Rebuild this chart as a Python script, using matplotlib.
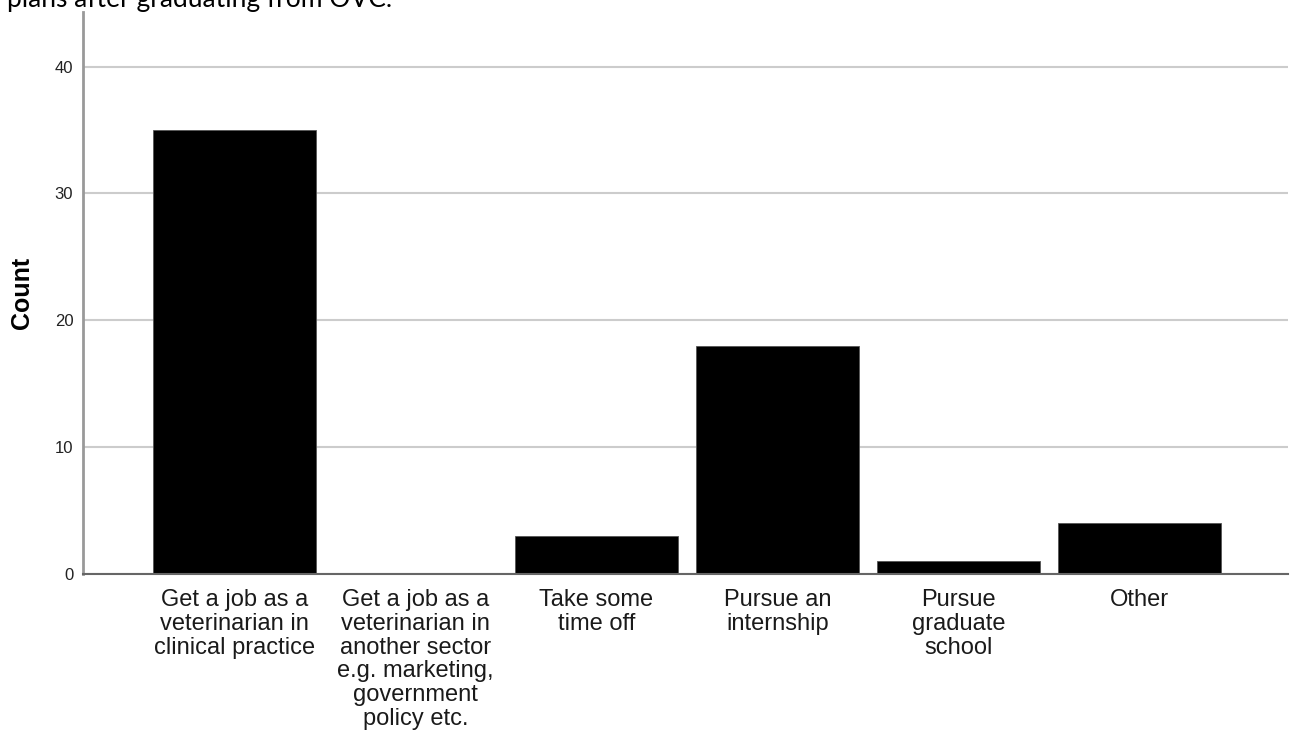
import matplotlib
matplotlib.use("Agg")
import matplotlib.pyplot as plt

categories = [
    "Get a job as a\nveterinarian in\nclinical practice",
    "Get a job as a\nveterinarian in\nanother sector\ne.g. marketing,\ngovernment\npolicy etc.",
    "Take some\ntime off",
    "Pursue an\ninternship",
    "Pursue\ngraduate\nschool",
    "Other",
]
counts = [35, 0, 3, 18, 1, 4]
yticks = [0, 10, 20, 30, 40]
title_text = "plans after graduating from OVC."

fig = plt.figure(figsize=(12.91, 7.42), dpi=100)
ax = fig.add_axes([83/1291, 1 - 574/742, (1288 - 83)/1291, (574 - 12)/742])

x = list(range(len(categories)))
ax.bar(x, counts, width=0.9, color="black", edgecolor="#555555", linewidth=0.6, zorder=3)

ax.set_xlim(-0.837, 5.82)
ax.set_ylim(0, 44.3)
ax.set_yticks(yticks)
ax.set_yticklabels([str(t) for t in yticks], fontsize=12, family="Liberation Sans", color="#222222")
ax.set_xticks(x)
ax.set_xticklabels(categories, fontsize=17, family="Liberation Sans", color="#1a1a1a", linespacing=1.1, va="top")
ax.tick_params(axis="both", length=0)
ax.tick_params(axis="y", pad=7)
ax.tick_params(axis="x", pad=11)

ax.grid(axis="y", color="#cccccc", linewidth=1.5, zorder=0)
for s in ["top", "right"]:
    ax.spines[s].set_visible(False)
ax.spines["left"].set_color("#999999")
ax.spines["left"].set_linewidth(2)
ax.spines["bottom"].set_color("#666666")
ax.spines["bottom"].set_linewidth(1.5)
ax.spines["bottom"].set_zorder(4)

ax.set_ylabel("Count", fontsize=18, fontweight="bold", family="Liberation Sans", labelpad=15)

fig.text(7/1291, 1 - 7/742, title_text, fontsize=19, family="Lato", va="baseline", ha="left", color="black")

fig.savefig("out.png", dpi=100)
